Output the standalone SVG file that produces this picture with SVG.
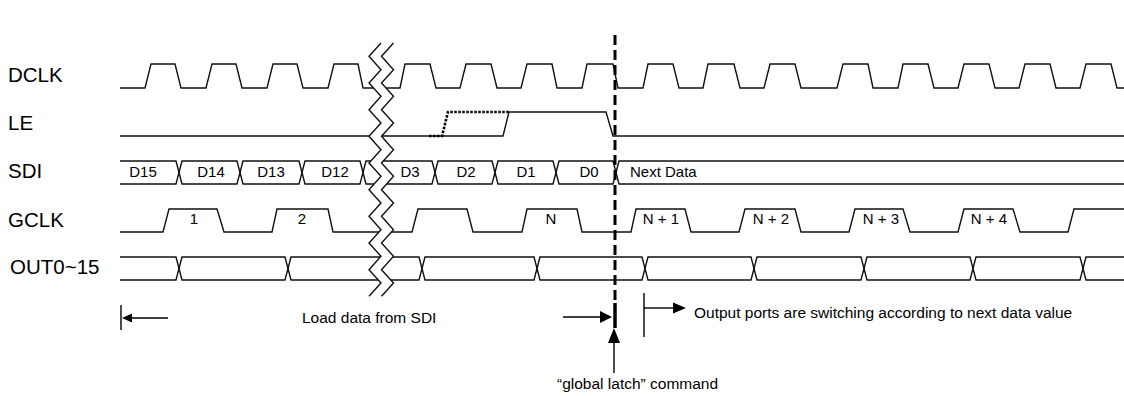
<svg xmlns="http://www.w3.org/2000/svg" width="1124" height="396" viewBox="0 0 1124 396">
<style>
.sig{fill:none;stroke:#111;stroke-width:1.4;stroke-linejoin:miter}
.lbl{font-family:"Liberation Sans",Arial,sans-serif;font-size:20.5px;fill:#000}
.t{font-family:"Liberation Sans",Arial,sans-serif;font-size:15.5px;fill:#000}
.tm{font-family:"Liberation Sans",Arial,sans-serif;font-size:15px;fill:#000;text-anchor:middle}
.td{font-family:"Liberation Sans",Arial,sans-serif;font-size:15px;fill:#000}
.ln{fill:none;stroke:#000;stroke-width:1.4}
.head{fill:#000;stroke:none}
</style>
<rect width="1124" height="396" fill="#fff"/>
<g id="labels">
<text class="lbl" x="8" y="82">DCLK</text>
<text class="lbl" x="8" y="130">LE</text>
<text class="lbl" x="8" y="178">SDI</text>
<text class="lbl" x="8" y="227">GCLK</text>
<text class="lbl" x="10" y="274">OUT0~15</text>
</g>
<g id="DCLK">
<path class="sig" d="M120,88 L145,88 L151,64 L175,64 L181,88 L206,88 L212,64 L236,64 L242,88 L267,88 L273,64 L297,64 L303,88 L328,88 L334,64 L358,64 L363,88 L400,88 L405,64 L430,64 L436,88 L460,88 L466,64 L491,64 L497,88 L521,88 L527,64 L552,64 L557,88 L582,88 L587,64 L613,64 L618,88 L643,88 L648,64 L673,64 L679,88 L703,88 L708,64 L734,64 L740,88 L764,88 L770,64 L795,64 L801,88 L837,88 L843,64 L868,64 L873,88 L898,88 L903,64 L928,64 L934,88 L958,88 L964,64 L989,64 L995,88 L1019,88 L1025,64 L1050,64 L1056,88 L1080,88 L1086,64 L1111,64 L1117,88 L1124,88"/>
</g>
<g id="LE">
<path class="sig" d="M120,136 L503,136 L509,112 L606,112 L613,136 L1124,136"/>
<path d="M429,136 L442,136 L448,112 L509,112" fill="none" stroke="#000" stroke-width="2.6" stroke-dasharray="2.5 1.5"/>
</g>
<g id="SDI">
<path class="sig" d="M120,161 H176 L182,184 H237 L243,161 H299 L305,184 H360 L366,161 H432 L438,184 H492 L498,161 H553 L559,184 H613 L619,161 H1124"/>
<path class="sig" d="M120,184 H176 L182,161 H237 L243,184 H299 L305,161 H360 L366,184 H432 L438,161 H492 L498,184 H553 L559,161 H613 L619,184 H1124"/>
<text class="tm" x="143" y="177">D15</text>
<text class="tm" x="211" y="177">D14</text>
<text class="tm" x="271" y="177">D13</text>
<text class="tm" x="335" y="177">D12</text>
<text class="tm" x="410" y="177">D3</text>
<text class="tm" x="466" y="177">D2</text>
<text class="tm" x="526" y="177">D1</text>
<text class="tm" x="589" y="177">D0</text>
<text class="td" x="630" y="177">Next Data</text>
</g>
<g id="GCLK">
<path class="sig" d="M120,232 L163,232 L169,209 L217,209 L224,232 L272,232 L277,209 L328,209 L333,232 L412,232 L418,209 L467,209 L473,232 L522,232 L527,209 L577,209 L582,232 L631,232 L636,209 L685,209 L691,232 L739,232 L745,209 L795,209 L801,232 L849,232 L855,209 L903,209 L910,232 L958,232 L964,209 L1013,209 L1020,232 L1068,232 L1074,209 L1124,209"/>
<text class="tm" x="194" y="224">1</text>
<text class="tm" x="302" y="224">2</text>
<text class="tm" x="551" y="224">N</text>
<text class="tm" x="661" y="224">N + 1</text>
<text class="tm" x="771" y="224">N + 2</text>
<text class="tm" x="881" y="224">N + 3</text>
<text class="tm" x="989" y="224">N + 4</text>
</g>
<g id="OUT">
<path class="sig" d="M120,257 H176 L182,280 H285 L291,257 H419 L425,280 H534 L540,257 H642 L648,280 H751 L757,257 H861 L867,280 H970 L976,257 H1080 L1086,280 H1124"/>
<path class="sig" d="M120,280 H176 L182,257 H285 L291,280 H419 L425,257 H534 L540,280 H642 L648,257 H751 L757,280 H861 L867,257 H970 L976,280 H1080 L1086,257 H1124"/>
</g>
<g id="break">
<polygon fill="#fff" points="381,43 369,56.3 381,69.7 369,83 381,96.3 369,109.7 381,123 369,136.3 381,149.7 369,163 381,176.3 369,189.7 381,203 369,216.3 381,229.7 369,243 381,256.3 369,269.7 381,283 369,296.3 381.5,296.3 393.5,283 381.5,269.7 393.5,256.3 381.5,243 393.5,229.7 381.5,216.3 393.5,203 381.5,189.7 393.5,176.3 381.5,163 393.5,149.7 381.5,136.3 393.5,123 381.5,109.7 393.5,96.3 381.5,83 393.5,69.7 381.5,56.3 393.5,43"/>
<polyline class="sig" stroke-width="1.1" points="381,43 369,56.3 381,69.7 369,83 381,96.3 369,109.7 381,123 369,136.3 381,149.7 369,163 381,176.3 369,189.7 381,203 369,216.3 381,229.7 369,243 381,256.3 369,269.7 381,283 369,296.3"/>
<polyline class="sig" stroke-width="1.1" points="393.5,43 381.5,56.3 393.5,69.7 381.5,83 393.5,96.3 381.5,109.7 393.5,123 381.5,136.3 393.5,149.7 381.5,163 393.5,176.3 381.5,189.7 393.5,203 381.5,216.3 393.5,229.7 381.5,243 393.5,256.3 381.5,269.7 393.5,283 381.5,296.3"/>
</g>
<g id="latch-line">
<line x1="615" y1="35" x2="615" y2="303" stroke="#000" stroke-width="3" stroke-dasharray="10 5"/>
<line x1="615" y1="303" x2="615" y2="328" stroke="#000" stroke-width="3.5"/>
</g>
<g id="connectors">
<line class="ln" x1="121" y1="305" x2="121" y2="330"/>
<line class="ln" x1="130" y1="318" x2="168" y2="318"/>
<polygon class="head" points="122,318 132,313.5 132,322.5"/>
<line class="ln" x1="563" y1="317" x2="601" y2="317"/>
<polygon class="head" points="612,317 600,311 600,323"/>
<line class="ln" x1="614" y1="342" x2="614" y2="373"/>
<polygon class="head" points="614,328 608,343 620,343"/>
<line class="ln" x1="644" y1="293" x2="644" y2="337"/>
<line class="ln" x1="644" y1="308" x2="675" y2="308"/>
<polygon class="head" points="686,308 673,302.5 673,313.5"/>
</g>
<g id="annotations">
<text class="t" x="302" y="323">Load data from SDI</text>
<text class="t" x="694" y="318">Output ports are switching according to next data value</text>
<text class="t" x="557" y="389">“global latch” command</text>
</g>
</svg>
